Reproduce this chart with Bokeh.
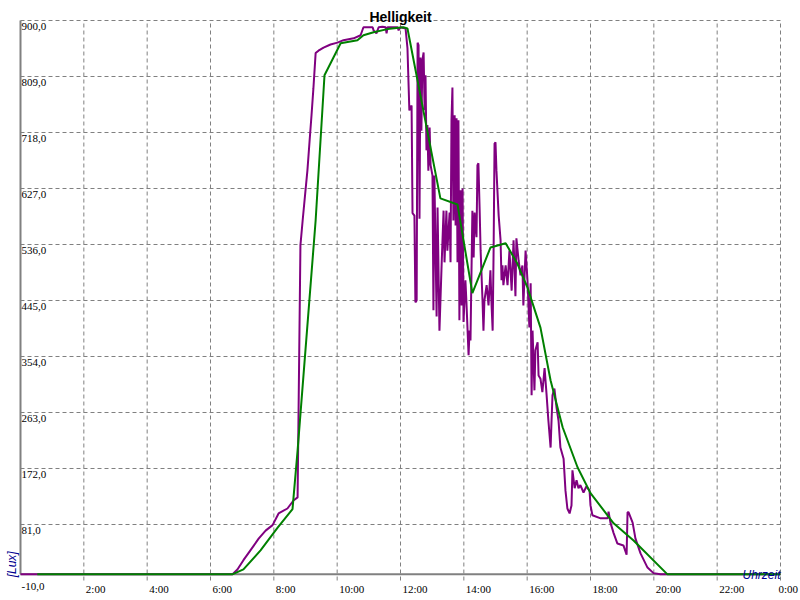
import math
from bokeh.plotting import figure
from bokeh.models import Range1d, Label, LabelSet, ColumnDataSource
from bokeh.embed import file_html
from bokeh.resources import INLINE

# ---------------- data ----------------
# measured brightness (purple), time in hours, value in lux
lux_hours = [0.00, 6.69, 6.85, 7.04, 7.26, 7.52, 7.74, 7.96, 8.15, 8.43, 8.62, 8.75,
             8.84, 8.91, 9.00, 9.06, 9.13, 9.19, 9.25, 9.32, 9.41, 9.57, 9.79, 10.01,
             10.20, 10.52, 10.74, 10.83, 11.12, 11.15, 11.24, 11.31, 11.43, 11.53, 11.56, 11.59,
             11.91, 11.94, 12.00, 12.16,
             12.22, 12.28, 12.35, 12.38, 12.44, 12.47, 12.51, 12.54, 12.57, 12.60, 12.63, 12.66,
             12.69, 12.73, 12.76, 12.79, 12.82, 12.85, 12.88, 12.92, 12.95, 13.01, 13.04, 13.07,
             13.14, 13.17, 13.23, 13.30, 13.36, 13.39, 13.45, 13.48, 13.55, 13.58, 13.61, 13.64,
             13.67, 13.71, 13.74, 13.77, 13.80, 13.83, 13.86, 13.90, 13.93, 13.96, 13.99, 14.05,
             14.08, 14.15, 14.18, 14.21, 14.27, 14.31, 14.34, 14.40, 14.43, 14.46, 14.50, 14.53,
             14.59, 14.62, 14.65, 14.72, 14.78, 14.84, 14.87, 14.91, 14.94, 14.97, 15.00, 15.03,
             15.10, 15.16, 15.19, 15.22, 15.25, 15.32, 15.38, 15.44, 15.51, 15.57, 15.63, 15.66,
             15.73, 15.79, 15.85, 15.88, 15.95, 16.01, 16.07, 16.11, 16.14, 16.17, 16.23, 16.26,
             16.33, 16.36, 16.42, 16.48, 16.55, 16.61, 16.67, 16.74, 16.77, 16.80, 16.86, 16.93,
             16.99, 17.05, 17.15, 17.21, 17.27, 17.34, 17.40, 17.43, 17.50, 17.56, 17.62, 17.68,
             17.78, 17.87, 17.97, 18.00, 18.06, 18.32, 18.54, 18.57, 18.63, 18.73, 18.85, 19.04,
             19.14, 19.17, 19.20, 19.33, 19.42, 19.58, 19.80, 19.99, 20.21, 24.00]
lux_values = [0, 0, 8, 23, 39, 58, 71, 80, 99, 107, 120, 125,
              535, 575, 624, 656, 705, 746, 790, 847, 851, 856, 861, 864,
              868, 871, 876, 889, 889, 884, 879, 889, 890, 889, 879, 889,
              889, 884, 889, 887,
              855, 754, 762, 587, 583, 442, 445, 864, 860, 578, 840, 721,
              835, 848, 754, 811, 689, 730, 656, 726, 665, 648, 429, 648,
              419, 596, 396, 505, 591, 507, 591, 526, 588, 507, 738, 791,
              575, 746, 567, 741, 507, 738, 413, 624, 437, 627, 410, 478,
              445, 356, 396, 380, 591, 515, 588, 548, 665, 668, 591, 526,
              445, 396, 445, 470, 437, 494, 445, 396, 526, 700, 702, 656,
              583, 543, 478, 502, 470, 502, 470, 526, 461, 543, 452, 546,
              510, 486, 502, 437, 526, 478, 401, 473, 291, 396, 299, 364,
              377, 323, 318, 296, 335, 294, 250, 206, 250, 291, 302, 270,
              250, 206, 188, 136, 107, 99, 112, 169, 140, 153, 140, 145,
              133, 143, 136, 112, 96, 91, 91, 102, 84, 67, 50, 47,
              32, 101, 101, 84, 58, 34, 11, 2, 0, 0]

# smoothed brightness (green)
avg_hours = [0.53, 6.69, 7.04, 7.58, 8.12, 8.59, 8.75, 9.32, 9.60, 10.11, 10.64, 10.83,
             11.15, 11.59, 12.09, 12.22, 13.26, 13.80, 14.27, 14.84, 15.32, 15.69, 16.01, 16.42,
             16.74, 17.12, 17.59, 18.00, 18.73, 19.36, 20.43, 24.00]
avg_values = [0, 0, 8, 39, 76, 106, 201, 575, 811, 863, 868, 876,
              881, 886, 889, 887, 611, 601, 457, 531, 538, 505, 466, 401,
              315, 239, 174, 132, 83, 55, 0, 0]

y_ticks = [-10, 81, 172, 263, 354, 445, 536, 627, 718, 809, 900]
y_tick_labels = ["-10,0", "81,0", "172,0", "263,0", "354,0", "445,0", "536,0",
                 "627,0", "718,0", "809,0", "900,0"]
x_ticks = [2, 4, 6, 8, 10, 12, 14, 16, 18, 20, 22, 24]
x_tick_labels = ["2:00", "4:00", "6:00", "8:00", "10:00", "12:00", "14:00",
                 "16:00", "18:00", "20:00", "22:00", "0:00"]

# ---------------- layout ----------------
W, H = 800, 600
MARGIN = 20                      # plot box inset on every side (px)
X0, X1 = 0, x_ticks[-1]          # 0:00 .. 24:00
Y0, Y1 = y_ticks[0], y_ticks[-1]
xu = (X1 - X0) / (W - 2 * MARGIN)    # data units per px
yu = (Y1 - Y0) / (H - 2 * MARGIN)

GRID = "#808080"
FONT = "Liberation Sans"

p = figure(width=W, height=H, output_backend="svg", toolbar_location=None,
           x_axis_type=None, y_axis_type=None,
           x_range=Range1d(X0 - MARGIN * xu, X1 + MARGIN * xu),
           y_range=Range1d(Y0 - MARGIN * yu, Y1 + MARGIN * yu))
p.min_border = 0
p.min_border_left = p.min_border_right = p.min_border_top = p.min_border_bottom = 0
p.outline_line_color = None
p.background_fill_color = "white"
p.border_fill_color = "white"

# dashed grid inside the plot box
hy = y_ticks[1:]
p.segment(x0=[X0] * len(hy), y0=hy, x1=[X1] * len(hy), y1=hy,
          line_color=GRID, line_width=1, line_dash="4 3")
p.segment(x0=x_ticks, y0=[Y0] * len(x_ticks), x1=x_ticks, y1=[Y1] * len(x_ticks),
          line_color=GRID, line_width=1, line_dash="4 3")

# axis lines (at zero)
p.segment(x0=[X0], y0=[0], x1=[X1], y1=[0], line_color=GRID, line_width=2)
p.segment(x0=[X0], y0=[0], x1=[X0], y1=[Y1], line_color=GRID, line_width=2)

p.line(lux_hours, lux_values, line_color="#800080", line_width=2)
p.line(avg_hours, avg_values, line_color="#008000", line_width=2)

# tick labels
ysrc = ColumnDataSource(dict(x=[X0] * len(y_ticks), y=y_ticks, t=y_tick_labels))
p.add_layout(LabelSet(x="x", y="y", text="t", source=ysrc, x_offset=1, y_offset=-2,
                      text_align="left", text_baseline="top",
                      text_font=FONT, text_font_size="11px", text_color="black"))
# last label (0:00 at the right edge) pulled in slightly so it stays on the page
x_label_dx = [2] * (len(x_ticks) - 1) + [-2]
xsrc = ColumnDataSource(dict(x=x_ticks, y=[Y0] * len(x_ticks), t=x_tick_labels, dx=x_label_dx))
p.add_layout(LabelSet(x="x", y="y", text="t", source=xsrc, x_offset="dx", y_offset=-2,
                      text_align="left", text_baseline="top",
                      text_font=FONT, text_font_size="11px", text_color="black"))

# title and axis names
p.add_layout(Label(x=(X0 + X1) / 2, y=Y1, text="Helligkeit", y_offset=4, text_align="center",
                   text_baseline="alphabetic", text_font=FONT,
                   text_font_style="bold", text_font_size="14px", text_color="black"))
p.add_layout(Label(x=X1, y=0, text="Uhrzeit", y_offset=-1, text_align="right",
                   text_baseline="alphabetic", text_font=FONT,
                   text_font_style="italic", text_font_size="12px", text_color="#000090"))
p.add_layout(Label(x=X0, y=0, text="[Lux]", x_offset=-2, y_offset=-3, angle=math.pi / 2,
                   text_align="left", text_baseline="bottom", text_font=FONT,
                   text_font_style="italic", text_font_size="12px", text_color="#000090"))

open("out.html", "w").write(file_html(p, INLINE))
